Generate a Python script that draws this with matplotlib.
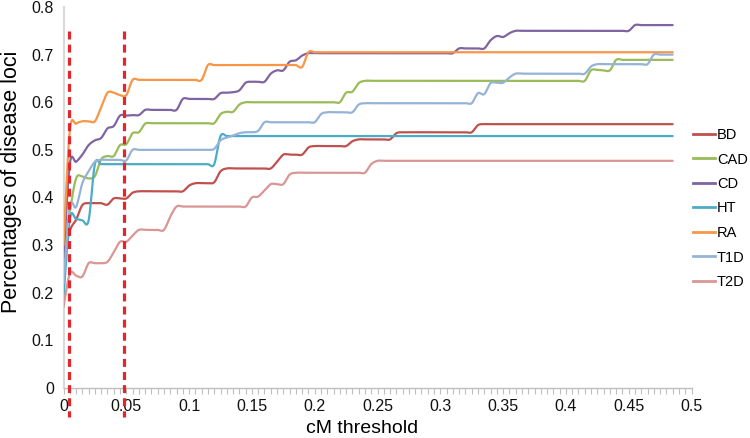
import numpy as np
import matplotlib
matplotlib.use("Agg")
import matplotlib.pyplot as plt
from matplotlib.lines import Line2D

# ---------------- data ----------------
step = 0.005
n_points = 98
cm_threshold = np.round(np.arange(n_points) * step, 3)

BD = [0.270, 0.330, 0.353, 0.384, 0.388, 0.388, 0.388, 0.385, 0.398, 0.398,
      0.398, 0.410, 0.413, 0.413, 0.413, 0.413, 0.413, 0.413, 0.413, 0.413,
      0.425, 0.430, 0.430, 0.430, 0.432, 0.455, 0.461, 0.461, 0.461, 0.461,
      0.461, 0.461, 0.461, 0.461, 0.475, 0.490, 0.490, 0.490, 0.490, 0.505,
      0.508, 0.508, 0.508, 0.508, 0.508, 0.508, 0.518, 0.522, 0.522, 0.522,
      0.522, 0.522, 0.522, 0.535, 0.537, 0.537, 0.537, 0.537, 0.537, 0.537,
      0.537, 0.537, 0.537, 0.537, 0.537, 0.537, 0.552, 0.554, 0.554, 0.554,
      0.554, 0.554, 0.554, 0.554, 0.554, 0.554, 0.554, 0.554, 0.554, 0.554,
      0.554, 0.554, 0.554, 0.554, 0.554, 0.554, 0.554, 0.554, 0.554, 0.554,
      0.554, 0.554, 0.554, 0.554, 0.554, 0.554, 0.554, 0.554]

CAD = [0.280, 0.370, 0.440, 0.444, 0.440, 0.445, 0.480, 0.487, 0.487, 0.510,
       0.512, 0.535, 0.537, 0.555, 0.556, 0.556, 0.556, 0.556, 0.556, 0.556,
       0.556, 0.556, 0.556, 0.556, 0.556, 0.575, 0.580, 0.580, 0.595, 0.600,
       0.600, 0.600, 0.600, 0.600, 0.600, 0.600, 0.600, 0.600, 0.600, 0.600,
       0.600, 0.600, 0.600, 0.600, 0.600, 0.620, 0.622, 0.640, 0.645, 0.645,
       0.645, 0.645, 0.645, 0.645, 0.645, 0.645, 0.645, 0.645, 0.645, 0.645,
       0.645, 0.645, 0.645, 0.645, 0.645, 0.645, 0.645, 0.645, 0.645, 0.645,
       0.645, 0.645, 0.645, 0.645, 0.645, 0.645, 0.645, 0.645, 0.645, 0.645,
       0.645, 0.645, 0.645, 0.645, 0.667, 0.668, 0.667, 0.667, 0.689, 0.689,
       0.689, 0.689, 0.689, 0.689, 0.689, 0.689, 0.689, 0.689]

CD = [0.270, 0.470, 0.475, 0.490, 0.510, 0.520, 0.525, 0.545, 0.550, 0.572,
      0.572, 0.573, 0.573, 0.584, 0.584, 0.584, 0.584, 0.584, 0.584, 0.607,
      0.607, 0.607, 0.607, 0.607, 0.607, 0.619, 0.620, 0.621, 0.625, 0.641,
      0.643, 0.643, 0.643, 0.660, 0.667, 0.667, 0.685, 0.688, 0.698, 0.703,
      0.703, 0.703, 0.703, 0.703, 0.703, 0.703, 0.703, 0.703, 0.703, 0.703,
      0.703, 0.703, 0.703, 0.703, 0.703, 0.703, 0.703, 0.703, 0.703, 0.703,
      0.703, 0.703, 0.703, 0.713, 0.713, 0.713, 0.713, 0.713, 0.730, 0.739,
      0.737, 0.745, 0.750, 0.750, 0.750, 0.750, 0.750, 0.750, 0.750, 0.750,
      0.750, 0.750, 0.750, 0.750, 0.750, 0.750, 0.750, 0.750, 0.750, 0.750,
      0.750, 0.762, 0.762, 0.762, 0.762, 0.762, 0.762, 0.762]

HT = [0.190, 0.355, 0.355, 0.352, 0.352, 0.470, 0.470, 0.470, 0.470, 0.470,
      0.470, 0.470, 0.470, 0.470, 0.470, 0.470, 0.470, 0.470, 0.470, 0.470,
      0.470, 0.470, 0.470, 0.470, 0.470, 0.529, 0.529, 0.529, 0.529, 0.529,
      0.529, 0.529, 0.529, 0.529, 0.529, 0.529, 0.529, 0.529, 0.529, 0.529,
      0.529, 0.529, 0.529, 0.529, 0.529, 0.529, 0.529, 0.529, 0.529, 0.529,
      0.529, 0.529, 0.529, 0.529, 0.529, 0.529, 0.529, 0.529, 0.529, 0.529,
      0.529, 0.529, 0.529, 0.529, 0.529, 0.529, 0.529, 0.529, 0.529, 0.529,
      0.529, 0.529, 0.529, 0.529, 0.529, 0.529, 0.529, 0.529, 0.529, 0.529,
      0.529, 0.529, 0.529, 0.529, 0.529, 0.529, 0.529, 0.529, 0.529, 0.529,
      0.529, 0.529, 0.529, 0.529, 0.529, 0.529, 0.529, 0.529]

RA = [0.300, 0.540, 0.555, 0.560, 0.560, 0.560, 0.590, 0.620, 0.620, 0.615,
      0.615, 0.647, 0.647, 0.647, 0.647, 0.647, 0.647, 0.647, 0.647, 0.647,
      0.647, 0.647, 0.647, 0.678, 0.678, 0.678, 0.678, 0.678, 0.678, 0.678,
      0.678, 0.678, 0.678, 0.678, 0.678, 0.678, 0.678, 0.678, 0.674, 0.705,
      0.705, 0.705, 0.705, 0.705, 0.705, 0.705, 0.705, 0.705, 0.705, 0.705,
      0.705, 0.705, 0.705, 0.705, 0.705, 0.705, 0.705, 0.705, 0.705, 0.705,
      0.705, 0.705, 0.705, 0.705, 0.705, 0.705, 0.705, 0.705, 0.705, 0.705,
      0.705, 0.705, 0.705, 0.705, 0.705, 0.705, 0.705, 0.705, 0.705, 0.705,
      0.705, 0.705, 0.705, 0.705, 0.705, 0.705, 0.705, 0.705, 0.705, 0.705,
      0.705, 0.705, 0.705, 0.705, 0.705, 0.705, 0.705, 0.705]

T1D = [0.220, 0.380, 0.380, 0.430, 0.455, 0.475, 0.479, 0.479, 0.479, 0.479,
       0.478, 0.500, 0.500, 0.500, 0.500, 0.500, 0.500, 0.500, 0.500, 0.500,
       0.500, 0.500, 0.500, 0.500, 0.502, 0.520, 0.526, 0.530, 0.535, 0.537,
       0.537, 0.540, 0.558, 0.558, 0.558, 0.558, 0.558, 0.558, 0.558, 0.558,
       0.558, 0.575, 0.579, 0.579, 0.579, 0.579, 0.579, 0.595, 0.598, 0.598,
       0.598, 0.598, 0.598, 0.598, 0.598, 0.598, 0.598, 0.598, 0.598, 0.598,
       0.598, 0.598, 0.598, 0.598, 0.598, 0.598, 0.619, 0.617, 0.640, 0.641,
       0.641, 0.652, 0.660, 0.660, 0.660, 0.660, 0.660, 0.660, 0.660, 0.660,
       0.660, 0.660, 0.660, 0.660, 0.675, 0.680, 0.680, 0.680, 0.680, 0.680,
       0.680, 0.680, 0.680, 0.680, 0.700, 0.700, 0.700, 0.700]

T2D = [0.170, 0.240, 0.236, 0.234, 0.262, 0.262, 0.262, 0.265, 0.285, 0.307,
       0.307, 0.320, 0.332, 0.332, 0.332, 0.332, 0.332, 0.360, 0.381, 0.381,
       0.381, 0.381, 0.381, 0.381, 0.381, 0.381, 0.381, 0.381, 0.381, 0.381,
       0.400, 0.402, 0.415, 0.428, 0.428, 0.428, 0.448, 0.452, 0.452, 0.452,
       0.452, 0.452, 0.452, 0.452, 0.452, 0.452, 0.452, 0.452, 0.452, 0.470,
       0.477, 0.477, 0.477, 0.477, 0.477, 0.477, 0.477, 0.477, 0.477, 0.477,
       0.477, 0.477, 0.477, 0.477, 0.477, 0.477, 0.477, 0.477, 0.477, 0.477,
       0.477, 0.477, 0.477, 0.477, 0.477, 0.477, 0.477, 0.477, 0.477, 0.477,
       0.477, 0.477, 0.477, 0.477, 0.477, 0.477, 0.477, 0.477, 0.477, 0.477,
       0.477, 0.477, 0.477, 0.477, 0.477, 0.477, 0.477, 0.477]

series_names = ["BD", "CAD", "CD", "HT", "RA", "T1D", "T2D"]
series_values = [BD, CAD, CD, HT, RA, T1D, T2D]
series_colors = ["#C0504D", "#9BBB59", "#8064A2", "#4BACC6", "#F79646", "#95B3D7", "#D99694"]

cutoffs = [0.004, 0.048]          # red dashed marker lines
x_ticks = [0, 0.05, 0.1, 0.15, 0.2, 0.25, 0.3, 0.35, 0.4, 0.45, 0.5]
y_ticks = [0, 0.1, 0.2, 0.3, 0.4, 0.5, 0.6, 0.7, 0.8]


def smooth(x, y, n=16):
    """Excel-like smoothed line: cubic Bezier through every point."""
    P = np.column_stack([np.asarray(x, float), np.asarray(y, float)])
    Pp = np.vstack([P[0], P, P[-1]])
    t = np.linspace(0, 1, n, endpoint=False)[:, None]
    segs = []
    for i in range(len(P) - 1):
        p0, p1 = Pp[i + 1], Pp[i + 2]
        c1 = p0 + (Pp[i + 2] - Pp[i]) / 6.0
        c2 = p1 - (Pp[i + 3] - Pp[i + 1]) / 6.0
        segs.append((1 - t) ** 3 * p0 + 3 * (1 - t) ** 2 * t * c1
                    + 3 * (1 - t) * t ** 2 * c2 + t ** 3 * p1)
    segs.append(P[-1:])
    pts = np.vstack(segs)
    return pts[:, 0], pts[:, 1]


plt.rcParams['font.family'] = ['Liberation Sans', 'DejaVu Sans']

fig = plt.figure(figsize=(7.5, 4.38), dpi=100)
ax = fig.add_axes([63.5 / 750, 50 / 438, 628 / 750, 381 / 438])

handles = []
for name, vals, col in zip(series_names, series_values, series_colors):
    sx, sy = smooth(cm_threshold, vals)
    ax.plot(sx, sy, color=col, lw=1.6, solid_capstyle='round', zorder=3)
    handles.append(Line2D([0], [0], color=col, lw=2.0))

for c in cutoffs:
    ax.plot([c, c], [0.75, -0.06], color="#E3262B", lw=2.3,
            dashes=(2.5, 1.6), clip_on=False, zorder=5)

ax.set_xlim(0, 0.5)
ax.set_ylim(0, 0.8)
ax.set_xticks(x_ticks)
ax.set_xticklabels([f"{v:g}" for v in x_ticks])
ax.set_xticks(np.round(np.arange(0, 0.5001, 0.005), 3), minor=True)
ax.set_yticks(y_ticks)
ax.set_yticklabels([f"{v:g}" for v in y_ticks])

for s in ["top", "right"]:
    ax.spines[s].set_visible(False)
ax.spines["left"].set_color("#D9D9D9")
ax.spines["left"].set_linewidth(1.5)
ax.spines["bottom"].set_color("#BFBFBF")
ax.spines["bottom"].set_linewidth(1.0)

ax.tick_params(axis="x", which="both", length=4, width=0.8, color="#BFBFBF",
               labelsize=11.5, pad=4, labelcolor="#111111")
ax.tick_params(axis="y", length=0, labelsize=11.5, pad=7, labelcolor="#111111")

ax.set_ylabel("Percentages of disease loci", fontsize=15.5)
ax.yaxis.set_label_coords((22 - 63.5) / 628, 0.542)
ax.set_xlabel("cM threshold", fontsize=14, va="top")
ax.xaxis.set_label_coords((362 - 63.5) / 628, -0.084)

fig.legend(handles, series_names, loc="center left",
           bbox_to_anchor=(693 / 750, 1 - 208.5 / 438),
           frameon=False, fontsize=10.5, handlelength=1.5,
           handletextpad=0.15, labelspacing=0.72, borderpad=0,
           borderaxespad=0)

fig.savefig("out.png", dpi=100)
